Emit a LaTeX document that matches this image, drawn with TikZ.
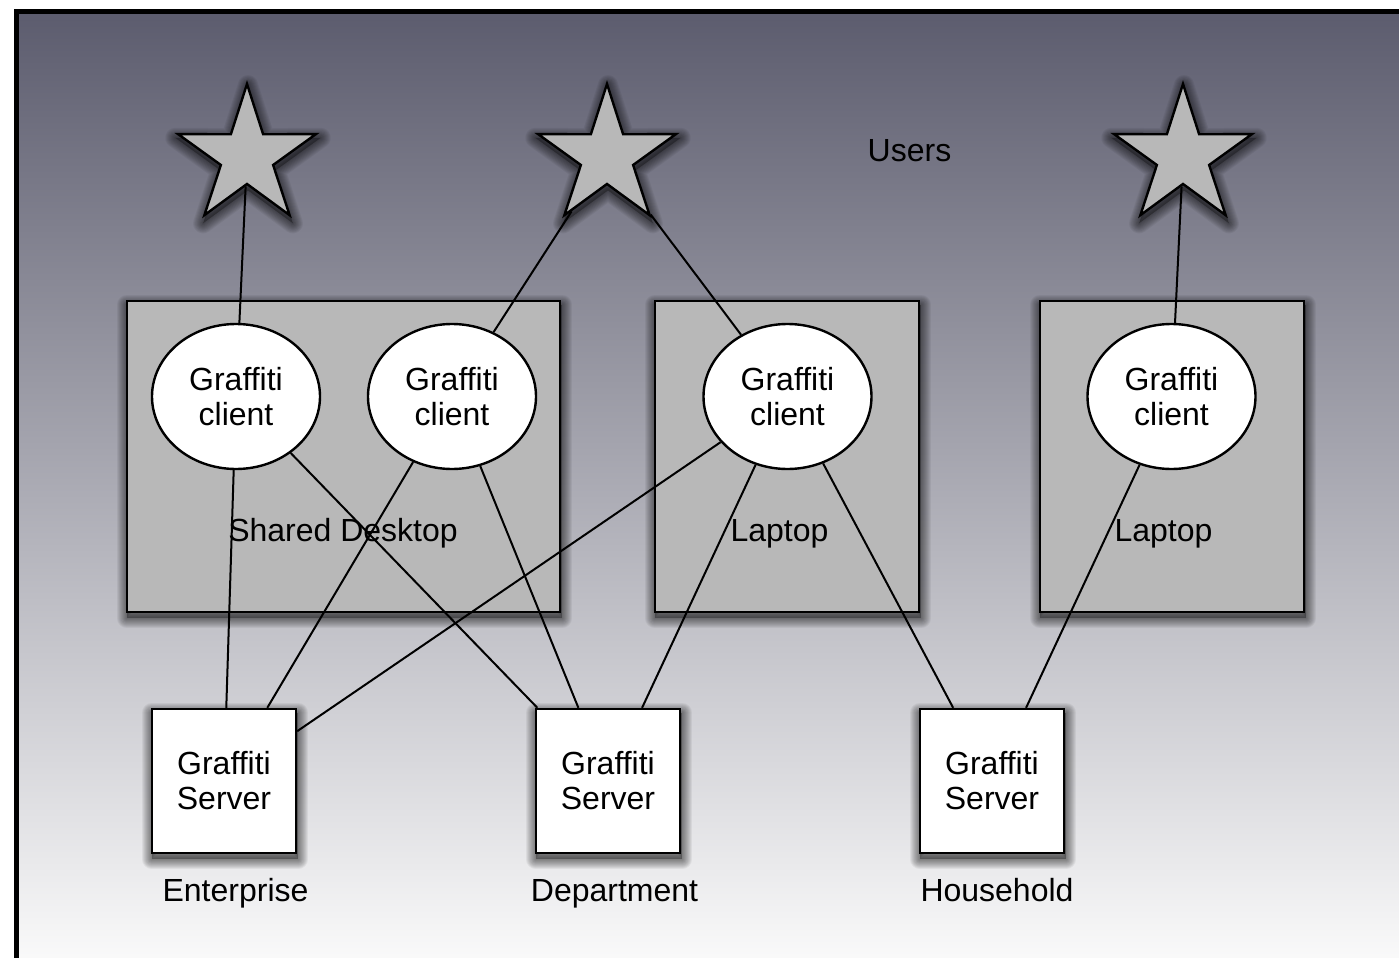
\documentclass[tikz,border=0pt]{standalone}
\usepackage{fontspec}
\setmainfont{Liberation Sans}
\usetikzlibrary{shapes.geometric}
\definecolor{bgtop}{RGB}{92,92,110}
\definecolor{bgbot}{RGB}{252,252,252}
\definecolor{boxgray}{RGB}{184,184,184}
\pgfdeclarelayer{bg}
\pgfsetlayers{bg,main}
\newcommand\dropshadow[1]{%
  \fill[black, fill opacity=0.3] #1;
  \foreach \w in {1,...,10} {\draw[black, draw opacity=0.055, line width=\w pt, line join=round] #1;}%
}
\newcommand\rectshadow[1]{\dropshadow{([shift={(1,5)}]#1.north west) rectangle ([shift={(1,5)}]#1.south east)}}
\newcommand\starshadow[1]{\dropshadow{([shift={(1,5)}]#1.outer point 1) -- ([shift={(1,5)}]#1.inner point 1) -- ([shift={(1,5)}]#1.outer point 2) -- ([shift={(1,5)}]#1.inner point 2) -- ([shift={(1,5)}]#1.outer point 3) -- ([shift={(1,5)}]#1.inner point 3) -- ([shift={(1,5)}]#1.outer point 4) -- ([shift={(1,5)}]#1.inner point 4) -- ([shift={(1,5)}]#1.outer point 5) -- ([shift={(1,5)}]#1.inner point 5) -- cycle}}
\begin{document}
\begin{tikzpicture}[x=0.5pt,y=-0.5pt,
  lbl/.style={font=\fontsize{16}{17.5}\selectfont, align=center, inner sep=0pt},
  toplbl/.style={lbl, anchor=base},
  userstar/.style={star, star points=5, star point ratio=2.64, minimum size=72.5pt, inner sep=0pt, draw, line width=1.2pt, fill=boxgray},
  device/.style={rectangle, inner sep=0pt, draw, line width=1.2pt, fill=boxgray},
  client/.style={ellipse, draw, line width=1.2pt, fill=white, minimum width=84pt, minimum height=72.5pt, inner sep=0pt, lbl},
  server/.style={rectangle, minimum size=72pt, inner sep=0pt, lbl, draw, line width=1.2pt, fill=white},
  link/.style={line width=1pt}
]
\useasboundingbox (0,0) rectangle (1399,958);

\node[device, minimum width=216.5pt, minimum height=155.5pt] (desk) at (343.5,456.5) {};
\node[device, minimum width=132pt, minimum height=155.5pt] (lap1) at (787,456.5) {};
\node[device, minimum width=132pt, minimum height=155.5pt] (lap2) at (1172,456.5) {};
\node[toplbl] (desklbl) at (343,541) {Shared Desktop};
\node[toplbl] (lap1lbl) at (779.5,541) {Laptop};
\node[toplbl] (lap2lbl) at (1163.5,541) {Laptop};

\node[userstar] (u1) at (247,156.5) {};
\node[userstar] (u2) at (607,156.5) {};
\node[userstar] (u3) at (1183,156.5) {};
\node[toplbl] (users) at (909.5,161) {Users};

\node[client] (c1) at (236,396.5) {Graffiti\\client};
\node[client] (c2) at (452,396.5) {Graffiti\\client};
\node[client] (c3) at (787.5,396.5) {Graffiti\\client};
\node[client] (c4) at (1171.5,396.5) {Graffiti\\client};

\node[server] (s1) at (224,781) {Graffiti\\Server};
\node[server] (s2) at (608,781) {Graffiti\\Server};
\node[server] (s3) at (992,781) {Graffiti\\Server};

\node[toplbl] (ent) at (235.5,901) {Enterprise};
\node[toplbl] (dep) at (614.5,901) {Department};
\node[toplbl] (hh) at (997,901) {Household};

\draw[link] (u1) -- (c1);
\draw[link] (u2) -- (c2);
\draw[link] (u2) -- (c3);
\draw[link] (u3) -- (c4);
\draw[link] (c1) -- (s1);
\draw[link] (c1) -- (s2);
\draw[link] (c2) -- (s1);
\draw[link] (c2) -- (s2);
\draw[link] (c3) -- (s1);
\draw[link] (c3) -- (s2);
\draw[link] (c3) -- (s3);
\draw[link] (c4) -- (s3);

\begin{pgfonlayer}{bg}
\fill[white] (0,0) rectangle (1399,958);
\shade[top color=bgtop, bottom color=bgbot] (16.5,11.5) rectangle (1399,975);
\draw[line width=2.5pt] (16.5,958) -- (16.5,11.5) -- (1399,11.5);
\rectshadow{desk}
\rectshadow{lap1}
\rectshadow{lap2}
\rectshadow{s1}
\rectshadow{s2}
\rectshadow{s3}
\starshadow{u1}
\starshadow{u2}
\starshadow{u3}
\end{pgfonlayer}
\end{tikzpicture}
\end{document}
